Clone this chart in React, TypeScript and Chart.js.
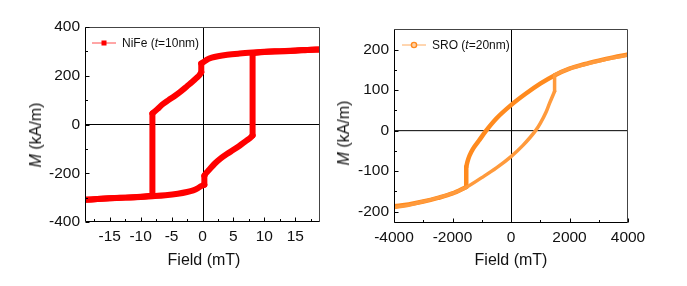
import React, { useEffect, useRef } from 'react';
import { Chart, registerables } from 'chart.js';

Chart.register(...registerables);

// ---------- NiFe (t=10nm) ----------
const niFeDescField = [19, 17, 15, 12.5, 10, 8.1, 6, 4, 2.5, 1.5, 0.8, 0.3, -0.2, -0.2, -0.5, -1.0, -1.6, -2.5, -3.5, -4.5, -5.5, -6.5, -7.3, -8.1, -8.1, -10, -12.5, -15, -17, -19];
const niFeDescM = [308, 306, 304, 301, 298, 295, 291, 286, 280, 274, 267, 258, 250, 214, 203, 190, 176, 157, 136, 117, 100, 82, 63, 45, -292, -296, -300, -303, -306, -309];
const niFeAscField = [-19, -17, -15, -12.5, -10, -8.1, -6, -4, -2.5, -1.5, -0.8, -0.3, 0.3, 0.3, 0.6, 1.0, 2.0, 3.0, 4.0, 5.0, 6.0, 7.0, 7.7, 8.1, 8.1, 10, 12.5, 15, 17, 19];
const niFeAscM = [-309, -306, -303, -300, -297, -294, -290, -284, -277, -270, -262, -254, -247, -210, -199, -188, -160, -138, -120, -104, -87, -68, -55, -45, 293, 297, 300, 303, 306, 308];

const niFeXMin = -19;
const niFeXMax = 19;
const niFeYMin = -400;
const niFeYMax = 400;
const niFeXTicks = [-15, -10, -5, 0, 5, 10, 15];
const niFeXMinor = [-17.5, -12.5, -7.5, -2.5, 2.5, 7.5, 12.5, 17.5];
const niFeYTicks = [-400, -200, 0, 200, 400];
const niFeYMinor = [-300, -100, 100, 300];

// ---------- SRO (t=20nm) ----------
const sroDescField = [4000, 3500, 3000, 2500, 2000, 1500, 1000, 500, 0, -500, -850, -1100, -1300, -1420, -1490, -1530, -1530, -2000, -2500, -3000, -3500, -4000];
const sroDescM = [188, 181, 173, 164, 153, 137, 116, 91, 63, 30, 0, -25, -45, -62, -77, -90, -139, -155, -166, -175, -182, -187];
const sroAscField = [-4000, -3500, -3000, -2500, -2000, -1530, -1000, -500, 0, 400, 840, 1000, 1200, 1320, 1420, 1490, 1490, 2000, 2500, 3000, 3500, 4000];
const sroAscM = [-190, -184, -175, -166, -155, -140, -116, -92, -64, -37, 0, 18, 46, 68, 85, 97, 138, 153, 163, 172, 180, 186];

const sroXMin = -4000;
const sroXMax = 4000;
const sroYMin = -228;
const sroYMax = 251;
const sroXTicks = [-4000, -2000, 0, 2000, 4000];
const sroXMinor = [-3000, -1000, 1000, 3000];
const sroYTicks = [-200, -100, 0, 100, 200];
const sroYMinor = [-150, -50, 50, 150];

const FONT = "'Liberation Sans', Arial, Helvetica, sans-serif";

// split a branch into smooth pieces at its vertical jumps (equal consecutive fields)
const toSegments = (xs: number[], ys: number[]) => {
  const segs: { x: number; y: number }[][] = [];
  let cur: { x: number; y: number }[] = [{ x: xs[0], y: ys[0] }];
  for (let i = 1; i < xs.length; i++) {
    const pt = { x: xs[i], y: ys[i] };
    if (xs[i] === xs[i - 1]) {
      segs.push(cur);
      segs.push([cur[cur.length - 1], pt]);
      cur = [pt];
    } else {
      cur.push(pt);
    }
  }
  segs.push(cur);
  return segs.filter((s) => s.length > 1);
};

const framePlugin = {
  id: 'frame',
  beforeDatasetsDraw(chart: any) {
    const { ctx, chartArea: a, scales } = chart;
    const x0 = scales.x.getPixelForValue(0);
    const y0 = scales.y.getPixelForValue(0);
    ctx.save();
    ctx.strokeStyle = '#000';
    ctx.lineWidth = 1;
    ctx.beginPath();
    ctx.moveTo(a.left, y0);
    ctx.lineTo(a.right, y0);
    ctx.moveTo(Math.round(x0) + 0.5, a.top);
    ctx.lineTo(Math.round(x0) + 0.5, a.bottom);
    ctx.stroke();
    ctx.restore();
  },
  afterDatasetsDraw(chart: any, _args: any, opts: any) {
    const { ctx, chartArea: a, scales } = chart;
    ctx.save();
    ctx.lineWidth = 1;
    ctx.strokeStyle = '#000';
    ctx.beginPath();
    ctx.moveTo(a.left + 0.5, a.top);
    ctx.lineTo(a.left + 0.5, a.bottom - 0.5);
    ctx.lineTo(a.right, a.bottom - 0.5);
    ctx.stroke();
    ctx.strokeStyle = '#444';
    ctx.beginPath();
    ctx.moveTo(a.left, a.top + 0.5);
    ctx.lineTo(a.right - 0.5, a.top + 0.5);
    ctx.lineTo(a.right - 0.5, a.bottom);
    ctx.stroke();
    ctx.strokeStyle = '#000';
    ctx.beginPath();
    const xt = (vals: number[], len: number) => vals.forEach((v) => {
      const p = Math.round(scales.x.getPixelForValue(v)) + 0.5;
      ctx.moveTo(p, a.bottom - 0.5);
      ctx.lineTo(p, a.bottom - 0.5 - len);
    });
    const yt = (vals: number[], len: number) => vals.forEach((v) => {
      const p = Math.round(scales.y.getPixelForValue(v)) + 0.5;
      ctx.moveTo(a.left + 0.5, p);
      ctx.lineTo(a.left + 0.5 + len, p);
    });
    xt(opts.xMajor, 4);
    xt(opts.xMinor, 2.5);
    yt(opts.yMajor, 4);
    yt(opts.yMinor, 2.5);
    ctx.stroke();
    ctx.restore();
  },
};

type Series = { xs: number[]; ys: number[]; color: string; width: number };
type PlotProps = {
  width: number;
  height: number;
  area: { left: number; right: number; top: number; bottom: number };
  xMin: number; xMax: number; yMin: number; yMax: number;
  xTicks: number[]; xMinor: number[]; yTicks: number[]; yMinor: number[];
  series: Series[];
};

function Plot(p: PlotProps) {
  const ref = useRef<HTMLCanvasElement>(null);
  useEffect(() => {
    if (!ref.current) return;
    const tickFont = { family: FONT, size: 15.5 };
    const datasets: any[] = [];
    p.series.forEach((s) => {
      toSegments(s.xs, s.ys).forEach((seg) => {
        datasets.push({
          data: seg,
          borderColor: s.color,
          backgroundColor: s.color,
          borderWidth: s.width,
          pointRadius: 0,
          cubicInterpolationMode: 'monotone',
          borderJoinStyle: 'round',
          borderCapStyle: 'round',
          clip: 0,
        });
      });
    });
    const chart = new Chart(ref.current, {
      type: 'line',
      data: { datasets },
      options: {
        animation: false,
        responsive: false,
        devicePixelRatio: 1,
        layout: {
          padding: { left: 0, top: p.area.top, right: p.width - p.area.right, bottom: 0 },
        },
        plugins: {
          legend: { display: false },
          tooltip: { enabled: false },
          frame: { xMajor: p.xTicks, xMinor: p.xMinor, yMajor: p.yTicks, yMinor: p.yMinor },
        },
        scales: {
          x: {
            type: 'linear',
            min: p.xMin,
            max: p.xMax,
            grid: { display: false, drawTicks: false },
            border: { display: false },
            ticks: { padding: 5, font: tickFont, color: '#111', callback: (v: any) => String(v), maxRotation: 0, autoSkip: false },
            afterBuildTicks: (s: any) => { s.ticks = p.xTicks.map((v) => ({ value: v })); },
            afterFit: (s: any) => { s.height = p.height - p.area.bottom; },
          },
          y: {
            type: 'linear',
            min: p.yMin,
            max: p.yMax,
            grid: { display: false, drawTicks: false },
            border: { display: false },
            ticks: { padding: 5, font: tickFont, color: '#111', callback: (v: any) => String(v), autoSkip: false },
            afterBuildTicks: (s: any) => { s.ticks = p.yTicks.map((v) => ({ value: v })); },
            afterFit: (s: any) => { s.width = p.area.left; },
          },
        },
      },
      plugins: [framePlugin],
    } as any);
    return () => chart.destroy();
  }, []);
  return <canvas ref={ref} width={p.width} height={p.height} style={{ display: 'block', width: p.width, height: p.height }} />;
}

const textStyle: React.CSSProperties = { position: 'absolute', fontFamily: FONT, color: '#111', whiteSpace: 'nowrap', lineHeight: 1 };

function YTitle({ cx, cy }: { cx: number; cy: number }) {
  return (
    <div style={{ ...textStyle, left: cx, top: cy, fontSize: 16, transform: 'translate(-50%, -50%) rotate(-90deg)' }}>
      <i>M</i> (kA/m)
    </div>
  );
}

function XTitle({ cx, cy }: { cx: number; cy: number }) {
  return (
    <div style={{ ...textStyle, left: cx, top: cy, fontSize: 16, transform: 'translate(-50%, -50%)' }}>
      Field (mT)
    </div>
  );
}

function Legend({ x, y, color, marker, name, thick }: { x: number; y: number; color: string; marker: 'rect' | 'circle'; name: string; thick: string }) {
  return (
    <div style={{ ...textStyle, left: x, top: y, display: 'flex', alignItems: 'center', transform: 'translateY(-50%)', fontSize: 12 }}>
      <svg width={26} height={10} style={{ display: 'block', marginRight: 4 }}>
        <line x1={0} y1={5} x2={24} y2={5} stroke={color} strokeWidth={1} opacity={0.7} />
        {marker === 'rect' ? (
          <rect x={9.5} y={2.5} width={5} height={5} fill={color} />
        ) : (
          <circle cx={12} cy={5} r={2.6} fill="#ffd2a6" stroke={color} strokeWidth={1.4} />
        )}
      </svg>
      <span>{name} (<i>t</i>={thick})</span>
    </div>
  );
}

export default function App() {
  const niFeSeries: Series[] = [
    { xs: niFeDescField, ys: niFeDescM, color: '#ff0000', width: 6 },
    { xs: niFeAscField, ys: niFeAscM, color: '#ff0000', width: 6 },
  ];
  const sroSeries: Series[] = [
    { xs: sroAscField, ys: sroAscM, color: '#ff9a3c', width: 3.5 },
    { xs: sroDescField, ys: sroDescM, color: '#ff8a1e', width: 4.5 },
  ];
  return (
    <div style={{ position: 'absolute', left: 0, top: 0, width: 687, height: 286, background: '#fff', overflow: 'hidden' }}>
      <div style={{ position: 'absolute', left: 0, top: 0 }}>
        <Plot
          width={343}
          height={286}
          area={{ left: 85, right: 320, top: 27, bottom: 222 }}
          xMin={niFeXMin} xMax={niFeXMax} yMin={niFeYMin} yMax={niFeYMax}
          xTicks={niFeXTicks} xMinor={niFeXMinor} yTicks={niFeYTicks} yMinor={niFeYMinor}
          series={niFeSeries}
        />
      </div>
      <div style={{ position: 'absolute', left: 343, top: 0 }}>
        <Plot
          width={344}
          height={286}
          area={{ left: 51, right: 285, top: 29, bottom: 223 }}
          xMin={sroXMin} xMax={sroXMax} yMin={sroYMin} yMax={sroYMax}
          xTicks={sroXTicks} xMinor={sroXMinor} yTicks={sroYTicks} yMinor={sroYMinor}
          series={sroSeries}
        />
      </div>
      <YTitle cx={36} cy={135} />
      <XTitle cx={204} cy={260} />
      <YTitle cx={344} cy={133} />
      <XTitle cx={511} cy={260} />
      <Legend x={92} y={43} color="#ff0000" marker="rect" name="NiFe" thick="10nm" />
      <Legend x={402} y={45} color="#ff8a1e" marker="circle" name="SRO" thick="20nm" />
    </div>
  );
}
